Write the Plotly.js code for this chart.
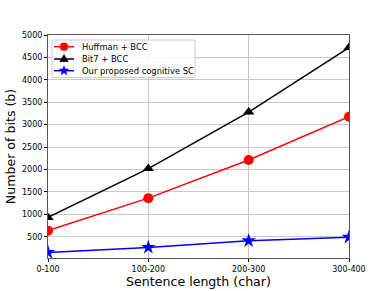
<!DOCTYPE html>
<html><head><meta charset="utf-8">
<script src="https://cdn.plot.ly/plotly-3.0.1.min.js"></script>
<style>html,body{margin:0;padding:0;background:#fff}#c{width:388px;height:291px}</style>
</head><body><div id="c"></div>
<script>
const categories = ["0-100", "100-200", "200-300", "300-400"];
const huffman = [635, 1360, 2210, 3175];
const bit7 = [930, 2020, 3280, 4720];
const ours = [150, 262, 410, 490];
const yTicks = [500, 1000, 1500, 2000, 2500, 3000, 3500, 4000, 4500, 5000];
const seriesNames = ["Huffman + BCC", "Bit7 + BCC", "Our proposed cognitive SC"];

const xIdx = categories.map((_, i) => i);
const font = "DejaVu Sans, sans-serif";
const colors = ["#ff0000", "#000000", "#0000ff"];
const symbols = ["circle", "triangle-up", "star"];
const values = [huffman, bit7, ours];

const traces = values.map((v, i) => ({
  x: xIdx, y: v, name: seriesNames[i], mode: "lines+markers", showlegend: false,
  line: {color: colors[i], width: 1.5},
  marker: {symbol: symbols[i], size: i === 2 ? 11 : 10, color: colors[i]}
}));

// layout geometry (pixels)
const W = 388, H = 291, M = {l: 48, r: 39, t: 35, b: 33};
const pw = W - M.l - M.r, ph = H - M.t - M.b;
const px = x => (x - M.l) / pw;
const py = y => (H - M.b - y) / ph;

// hand-drawn legend box (matplotlib-like compact legend)
const shapes = [{
  type: "rect", xref: "paper", yref: "paper",
  x0: px(52), x1: px(195), y0: py(40), y1: py(77.5),
  fillcolor: "rgba(255,255,255,0.85)", line: {color: "#cccccc", width: 1}, layer: "above"
}];
const annotations = [];
const rowY = [46.7, 59, 70.7];

function starPath(r) {
  const pts = [];
  for (let k = 0; k < 10; k++) {
    const rr = k % 2 === 0 ? r : r * 0.42;
    const a = Math.PI / 2 + k * Math.PI / 5;
    pts.push((rr * Math.cos(a)).toFixed(2) + "," + (rr * Math.sin(a)).toFixed(2));
  }
  return "M" + pts.join("L") + "Z";
}
const triPath = r => `M0,${r}L${(r*0.95).toFixed(2)},${(-r*0.6).toFixed(2)}L${(-r*0.95).toFixed(2)},${(-r*0.6).toFixed(2)}Z`;

seriesNames.forEach((name, i) => {
  const yy = py(rowY[i]);
  shapes.push({type: "line", xref: "paper", yref: "paper", x0: px(54), x1: px(74), y0: yy, y1: yy,
    line: {color: colors[i], width: 1.5}, layer: "above"});
  const base = {xref: "paper", yref: "paper", xsizemode: "pixel", ysizemode: "pixel",
    xanchor: px(64), yanchor: yy, fillcolor: colors[i], line: {color: colors[i], width: 0.5}, layer: "above"};
  if (i === 0) shapes.push(Object.assign({type: "circle", x0: -4, x1: 4, y0: -4, y1: 4}, base));
  if (i === 1) shapes.push(Object.assign({type: "path", path: triPath(4.5)}, base));
  if (i === 2) shapes.push(Object.assign({type: "path", path: starPath(5)}, base));
  annotations.push({xref: "paper", yref: "paper", x: px(79.5), y: yy, xanchor: "left", yanchor: "middle",
    text: name, showarrow: false, font: {family: font, size: 8.4, color: "#000"}});
});

const layout = {
  width: W, height: H,
  margin: M,
  paper_bgcolor: "#fff", plot_bgcolor: "#fff",
  font: {family: font, size: 8, color: "#000"},
  showlegend: false,
  shapes: shapes, annotations: annotations,
  xaxis: {
    range: [0, 3], tickmode: "array", tickvals: xIdx, ticktext: categories,
    showgrid: true, gridcolor: "#c8c8c8", gridwidth: 1,
    showline: true, linecolor: "#555", linewidth: 1, mirror: true,
    ticks: "outside", ticklen: 3, tickcolor: "#000", zeroline: false,
    tickfont: {family: font, size: 8, color: "#000"},
    title: {text: "Sentence length (char)", font: {family: font, size: 12.6, color: "#000"}, standoff: 3}
  },
  yaxis: {
    range: [25, 5000], tickmode: "array", tickvals: yTicks,
    showgrid: true, gridcolor: "#c8c8c8", gridwidth: 1,
    showline: true, linecolor: "#555", linewidth: 1, mirror: true,
    ticks: "outside", ticklen: 3, tickcolor: "#000", zeroline: false,
    tickfont: {family: font, size: 8, color: "#000"},
    title: {text: "Number of bits (b)", font: {family: font, size: 12.6, color: "#000"}, standoff: 3}
  }
};

Plotly.newPlot("c", traces, layout, {staticPlot: true, displayModeBar: false});
</script></body></html>
